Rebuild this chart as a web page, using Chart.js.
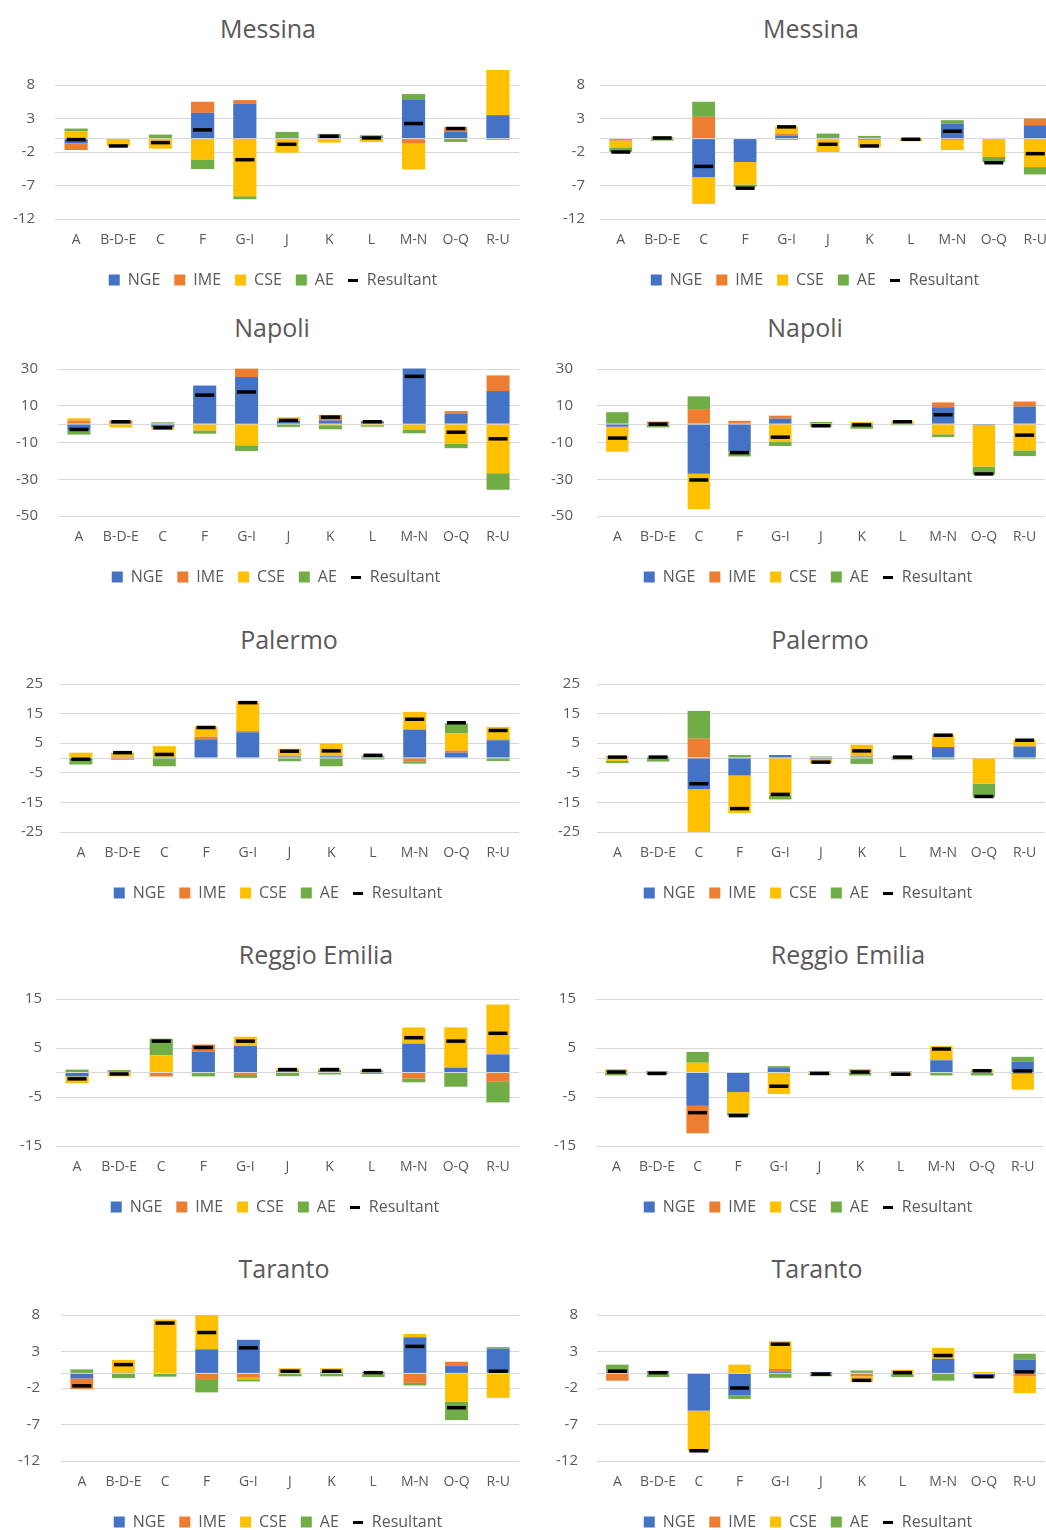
<!DOCTYPE html>
<html>
<head>
<meta charset="utf-8">
<script src="https://cdn.jsdelivr.net/npm/chart.js@4.4.1/dist/chart.umd.min.js"></script>
<style>
  html, body { margin: 0; padding: 0; background: #ffffff; }
  body { position: relative; width: 1046px; height: 1530px; overflow: hidden; font-family: 'Open Sans', sans-serif; }
  .city-title { position: absolute; transform: translate(-50%, -50%); font-size: 25px; line-height: 1; color: #595959; white-space: nowrap; }
  canvas { position: absolute; }
</style>
</head>
<body>
<script>
// Economic sectors on the category axis
const sectors = ['A', 'B-D-E', 'C', 'F', 'G-I', 'J', 'K', 'L', 'M-N', 'O-Q', 'R-U'];

// Y-axis tick values per city
const messinaTicks = [8, 3, -2, -7, -12];
const napoliTicks = [30, 10, -10, -30, -50];
const palermoTicks = [25, 15, 5, -5, -15, -25];
const reggioTicks = [15, 5, -5, -15];
const tarantoTicks = [8, 3, -2, -7, -12];

// Messina
const messinaL_NGE = [-0.7, -0.1, 0, 3.85, 5.25, 0, 0.3, 0.3, 5.75, 1.0, 3.5];
const messinaL_IME = [-1.0, 0, 0, 1.65, 0.5, 0, 0, 0, -0.75, 0.75, 0];
const messinaL_CSE = [1.1, -1.0, -1.5, -3.1, -8.6, -2.1, -0.6, -0.5, -3.85, 0, 6.75];
const messinaL_AE = [0.4, 0, 0.6, -1.45, -0.45, 1.0, 0.4, 0.2, 0.9, -0.5, -0.2];
const messinaL_Res = [-0.15, -1.1, -0.6, 1.3, -3.15, -0.85, 0.35, 0.1, 2.25, 1.5, 10.1];

const messinaR_NGE = [0, 0.15, -5.75, -3.5, 0.4, 0, 0.15, 0.1, 2.25, 0, 2.0];
const messinaR_IME = [-0.3, 0, 3.25, 0, 0.3, 0, -0.2, 0, -0.2, 0, 1.0];
const messinaR_CSE = [-1.0, 0.1, -4.0, -3.35, 1.1, -2.0, -1.1, -0.4, -1.5, -2.75, -4.25];
const messinaR_AE = [-0.7, -0.3, 2.25, -0.35, -0.2, 0.75, 0.25, 0, 0.5, -0.75, -1.1];
const messinaR_Res = [-2.0, 0.1, -4.15, -7.4, 1.75, -0.85, -1.1, -0.1, 1.1, -3.6, -2.25];

// Napoli
const napoliL_NGE = [-3.5, 0.6, -1.5, 21.0, 25.6, 1.8, 2.0, 1.6, 30.3, 5.6, 18.0];
const napoliL_IME = [2.0, 1.4, 0, 0, 4.6, 0.3, 3.0, 0, 0, 1.5, 8.5];
const napoliL_CSE = [1.2, -1.8, -1.5, -3.4, -11.5, 1.6, -0.6, -0.6, -3.2, -10.7, -26.7];
const napoliL_AE = [-2.2, 0, 1.0, -1.8, -3.1, -1.5, -2.2, -0.8, -1.8, -2.4, -9.0];
const napoliL_Res = [-2.9, 1.3, -2.0, 15.8, 17.5, 2.0, 3.8, 1.3, 26.0, -4.4, -8.0];

const napoliR_NGE = [-1.4, 0.4, -27.0, -14.9, 3.0, -0.5, -0.5, 0.3, 9.2, -0.5, 9.6];
const napoliR_IME = [0, 1.0, 8.2, 1.8, 1.6, 0, 0, 0.5, 2.6, 0, 2.7];
const napoliR_CSE = [-13.6, -0.4, -19.3, 0, -9.5, -1.0, 1.2, 1.0, -5.5, -22.6, -14.3];
const napoliR_AE = [6.5, -1.4, 6.9, -2.7, -2.4, 1.2, -2.0, -0.6, -1.5, -4.4, -3.1];
const napoliR_Res = [-7.6, 0.0, -30.4, -15.5, -7.1, -0.9, -0.4, 1.3, 5.1, -27.1, -6.0];

// Palermo
const palermoL_NGE = [-0.7, 0.4, 0.4, 6.3, 8.7, 0.5, 0.6, 0.5, 9.6, 1.8, 6.0];
const palermoL_IME = [0, -0.6, 0, 0.9, 0.4, 0.3, 0, 0, -1.1, 0.7, 0.3];
const palermoL_CSE = [1.8, 1.0, 3.6, 3.4, 10.0, 2.3, 4.3, 0.4, 6.0, 5.8, 4.2];
const palermoL_AE = [-1.5, 0.3, -2.8, 0, 0, -1.1, -2.8, -0.5, -0.8, 3.4, -1.0];
const palermoL_Res = [-0.4, 1.8, 1.2, 10.3, 18.7, 2.3, 2.4, 0.9, 13.1, 11.9, 9.3];

const palermoR_NGE = [0.4, 0.4, -10.5, -5.9, 1.0, -0.3, 0.5, 0.5, 3.7, 0, 3.9];
const palermoR_IME = [0.2, 0, 6.5, 0, 0, 0, 0, 0, 0, 0, 0];
const palermoR_CSE = [-1.0, 0, -14.5, -12.7, -12.6, -1.5, 4.0, -0.4, 4.3, -8.7, 2.2];
const palermoR_AE = [-0.7, -1.2, 9.4, 1.0, -1.4, 0.5, -2.0, -0.3, -0.5, -4.6, -0.4];
const palermoR_Res = [0.3, 0.3, -8.7, -17.1, -12.3, -1.4, 2.4, 0.3, 7.7, -13.0, 6.0];

// Reggio Emilia
const reggioL_NGE = [-0.8, 0.2, 0, 4.2, 5.4, 0.3, 0.4, 0.2, 5.9, 1.0, 3.7];
const reggioL_IME = [0, 0, -0.8, 1.5, -0.5, 0, 0, 0, -1.2, 0, -1.9];
const reggioL_CSE = [-1.4, -0.8, 3.5, 0, 1.9, 0.5, 0.4, 0.3, 3.3, 8.2, 10.2];
const reggioL_AE = [0.6, 0.3, 3.4, -0.8, -0.6, -0.7, -0.4, -0.3, -0.8, -2.9, -4.2];
const reggioL_Res = [-1.3, -0.3, 6.4, 5.1, 6.4, 0.6, 0.6, 0.4, 7.1, 6.4, 8.0];

const reggioR_NGE = [0.2, 0.2, -6.8, -4.0, 0.9, 0.2, 0.2, 0.2, 2.5, 0, 2.2];
const reggioR_IME = [0, 0, -5.6, 0, 0, 0, 0, 0, 0, 0, -0.3];
const reggioR_CSE = [0.5, 0, 2.0, -4.2, -4.4, -0.3, 0.5, -0.4, 2.9, 0.6, -3.2];
const reggioR_AE = [-0.6, -0.3, 2.2, -0.6, 0.4, -0.2, -0.6, -0.2, -0.6, -0.6, 1.0];
const reggioR_Res = [0.1, -0.2, -8.2, -8.8, -2.8, -0.2, 0.1, -0.35, 4.8, 0.35, 0.3];

// Taranto
const tarantoL_NGE = [-0.7, 0.1, 0, 3.3, 4.6, 0.1, 0.2, 0.2, 4.95, 1.0, 3.4];
const tarantoL_IME = [-1.45, 0, 0, -0.9, -0.6, 0, 0, 0, -1.3, 0.6, 0];
const tarantoL_CSE = [0, 1.75, 7.4, 4.7, -0.2, 0.6, 0.5, -0.1, 0.45, -3.9, -3.35];
const tarantoL_AE = [0.55, -0.65, -0.45, -1.7, -0.3, -0.4, -0.4, -0.4, -0.35, -2.5, 0.2];
const tarantoL_Res = [-1.7, 1.2, 6.9, 5.6, 3.5, 0.3, 0.3, 0.1, 3.7, -4.7, 0.3];

const tarantoR_NGE = [0.2, 0.3, -5.1, -3.0, 0.2, 0.2, 0.1, 0.1, 2.0, -0.3, 1.9];
const tarantoR_IME = [-1.0, 0, 0, 0, 0.4, 0, -0.4, 0, 0, 0, -0.4];
const tarantoR_CSE = [0, 0, -5.5, 1.2, 3.8, -0.1, -0.8, 0.4, 1.5, 0.2, -2.3];
const tarantoR_AE = [1.0, -0.5, 0, -0.5, -0.6, -0.3, 0.3, -0.5, -1.0, -0.3, 0.8];
const tarantoR_Res = [0.3, 0.1, -10.6, -2.0, 4.0, -0.1, -0.95, 0.1, 2.45, -0.45, 0.2];

// Effect components, stacked in this order
const effectNames = ['NGE', 'IME', 'CSE', 'AE'];
const effectColors = ['#4472C4', '#ED7D31', '#FFC000', '#70AD47'];

// Panel placement on the page
const panels = [
  { title: 'Messina', tx: 268, ty: 28, ticks: messinaTicks, min: -12, max: 8, x0: 0, plotLeft: 55, plotRight: 519, legendX: 273, plotTop: 85, plotBottom: 219, tickPad: 20,
    values: [messinaL_NGE, messinaL_IME, messinaL_CSE, messinaL_AE], res: messinaL_Res },
  { title: 'Messina', tx: 811, ty: 28, ticks: messinaTicks, min: -12, max: 8, x0: 523, plotLeft: 600, plotRight: 1056, legendX: 815, plotTop: 85, plotBottom: 219, tickPad: 15,
    values: [messinaR_NGE, messinaR_IME, messinaR_CSE, messinaR_AE], res: messinaR_Res },
  { title: 'Napoli', tx: 272, ty: 327, ticks: napoliTicks, min: -50, max: 30, x0: 0, plotLeft: 58, plotRight: 519, legendX: 276, plotTop: 369, plotBottom: 516, tickPad: 20,
    values: [napoliL_NGE, napoliL_IME, napoliL_CSE, napoliL_AE], res: napoliL_Res },
  { title: 'Napoli', tx: 805, ty: 327, ticks: napoliTicks, min: -50, max: 30, x0: 523, plotLeft: 597, plotRight: 1045, legendX: 808, plotTop: 369, plotBottom: 516, tickPad: 24,
    values: [napoliR_NGE, napoliR_IME, napoliR_CSE, napoliR_AE], res: napoliR_Res },
  { title: 'Palermo', tx: 289, ty: 639, ticks: palermoTicks, min: -25, max: 25, x0: 0, plotLeft: 60, plotRight: 519, legendX: 278, plotTop: 684, plotBottom: 832, tickPad: 17,
    values: [palermoL_NGE, palermoL_IME, palermoL_CSE, palermoL_AE], res: palermoL_Res },
  { title: 'Palermo', tx: 820, ty: 639, ticks: palermoTicks, min: -25, max: 25, x0: 523, plotLeft: 597, plotRight: 1045, legendX: 808, plotTop: 684, plotBottom: 832, tickPad: 17,
    values: [palermoR_NGE, palermoR_IME, palermoR_CSE, palermoR_AE], res: palermoR_Res },
  { title: 'Reggio Emilia', tx: 316, ty: 954, ticks: reggioTicks, min: -15, max: 15, x0: 0, plotLeft: 56, plotRight: 519, legendX: 275, plotTop: 999, plotBottom: 1146, tickPad: 14,
    values: [reggioL_NGE, reggioL_IME, reggioL_CSE, reggioL_AE], res: reggioL_Res },
  { title: 'Reggio Emilia', tx: 848, ty: 954, ticks: reggioTicks, min: -15, max: 15, x0: 523, plotLeft: 596, plotRight: 1043, legendX: 808, plotTop: 999, plotBottom: 1146, tickPad: 20,
    values: [reggioR_NGE, reggioR_IME, reggioR_CSE, reggioR_AE], res: reggioR_Res },
  { title: 'Taranto', tx: 284, ty: 1268, ticks: tarantoTicks, min: -12, max: 8, x0: 0, plotLeft: 61, plotRight: 519, legendX: 278, plotTop: 1315, plotBottom: 1461, tickPad: 21,
    values: [tarantoL_NGE, tarantoL_IME, tarantoL_CSE, tarantoL_AE], res: tarantoL_Res },
  { title: 'Taranto', tx: 817, ty: 1268, ticks: tarantoTicks, min: -12, max: 8, x0: 523, plotLeft: 597, plotRight: 1045, legendX: 808, plotTop: 1315, plotBottom: 1461, tickPad: 19,
    values: [tarantoR_NGE, tarantoR_IME, tarantoR_CSE, tarantoR_AE], res: tarantoR_Res }
];

Chart.defaults.font.family = "'Open Sans', sans-serif";
Chart.defaults.color = '#595959';

const PAD_TOP = 36;     // room above the plot (covers tick-label padding and tall bars)
const PAD_RIGHT = 30;   // room to the right of the plot for the last sector label
const X_AXIS_H = 39;    // height reserved for the sector labels
const LEGEND_FONT = 16;
const LEGEND_PAD = 14;
const LEGEND_H = LEGEND_FONT + LEGEND_PAD + 10;

// Short black dash used as the legend symbol of the resultant
const dashIcon = document.createElement('canvas');
dashIcon.width = 10;
dashIcon.height = 3;
(function () {
  const c = dashIcon.getContext('2d');
  c.fillStyle = '#000000';
  c.fillRect(0, 0, 10, 3);
})();

function legendLabels(chart) {
  const items = Chart.defaults.plugins.legend.labels.generateLabels(chart);
  items.forEach((it) => { if (it.text === 'Resultant') it.pointStyle = dashIcon; });
  return items;
}

// Moves the legend row so that it is centred on a chosen x position
const legendShift = {
  id: 'legendShift',
  afterLayout(chart, args, opts) {
    const lg = chart.legend;
    if (!lg) return;
    const dx = opts.centerX - (lg.left + lg.right) / 2;
    lg.left += dx;
    lg.right += dx;
  }
};

function drawPanel(p) {
  const title = document.createElement('div');
  title.className = 'city-title';
  title.textContent = p.title;
  title.style.left = p.tx + 'px';
  title.style.top = p.ty + 'px';
  document.body.appendChild(title);

  const W = p.plotRight - p.x0 + PAD_RIGHT;
  const H = PAD_TOP + (p.plotBottom - p.plotTop) + X_AXIS_H + LEGEND_H;
  const canvas = document.createElement('canvas');
  canvas.width = W;
  canvas.height = H;
  canvas.style.left = p.x0 + 'px';
  canvas.style.top = (p.plotTop - PAD_TOP) + 'px';
  canvas.style.width = W + 'px';
  canvas.style.height = H + 'px';
  document.body.appendChild(canvas);

  const axisW = p.plotLeft - p.x0;

  const datasets = effectNames.map((name, i) => ({
    label: name,
    data: p.values[i],
    backgroundColor: effectColors[i],
    stack: 'effects',
    clip: false,
    categoryPercentage: 0.55,
    barPercentage: 1,
    pointStyle: 'rect'
  }));
  datasets.push({
    type: 'line',
    label: 'Resultant',
    data: p.res,
    showLine: false,
    pointStyle: 'line',
    pointRadius: 9.5,
    pointHoverRadius: 9.5,
    pointBorderWidth: 3.5,
    borderWidth: 3,
    borderColor: '#000000',
    backgroundColor: '#000000',
    order: -1
  });

  new Chart(canvas, {
    type: 'bar',
    data: { labels: sectors, datasets },
    plugins: [legendShift],
    options: {
      responsive: false,
      animation: false,
      devicePixelRatio: 1,
      layout: { padding: { top: PAD_TOP, left: 0, right: PAD_RIGHT, bottom: 0 } },
      plugins: {
        legendShift: { centerX: p.legendX - p.x0 },
        legend: {
          position: 'bottom',
          labels: {
            usePointStyle: true,
            boxWidth: 11,
            boxHeight: 11,
            padding: LEGEND_PAD,
            color: '#595959',
            font: { size: LEGEND_FONT },
            generateLabels: legendLabels,
            sort: (a, b) => a.datasetIndex - b.datasetIndex
          }
        },
        tooltip: { enabled: false }
      },
      scales: {
        x: {
          stacked: true,
          grid: { display: false, drawTicks: false },
          border: { display: false },
          ticks: { padding: 13, color: '#595959', font: { size: 14 }, autoSkip: false, maxRotation: 0 },
          afterFit: (s) => { s.height = X_AXIS_H; }
        },
        y: {
          stacked: true,
          min: p.min,
          max: p.max,
          afterBuildTicks: (s) => { s.ticks = p.ticks.concat([0]).map((v) => ({ value: v })); },
          afterFit: (s) => { s.width = axisW; },
          grid: { color: '#d9d9d9', lineWidth: 1, drawTicks: false },
          border: { display: false },
          ticks: {
            padding: p.tickPad,
            color: '#595959',
            font: { size: 15 },
            autoSkip: false,
            callback: (v) => (v === 0 ? '' : String(v))
          }
        }
      }
    }
  });
}

panels.forEach(drawPanel);
</script>
</body>
</html>
